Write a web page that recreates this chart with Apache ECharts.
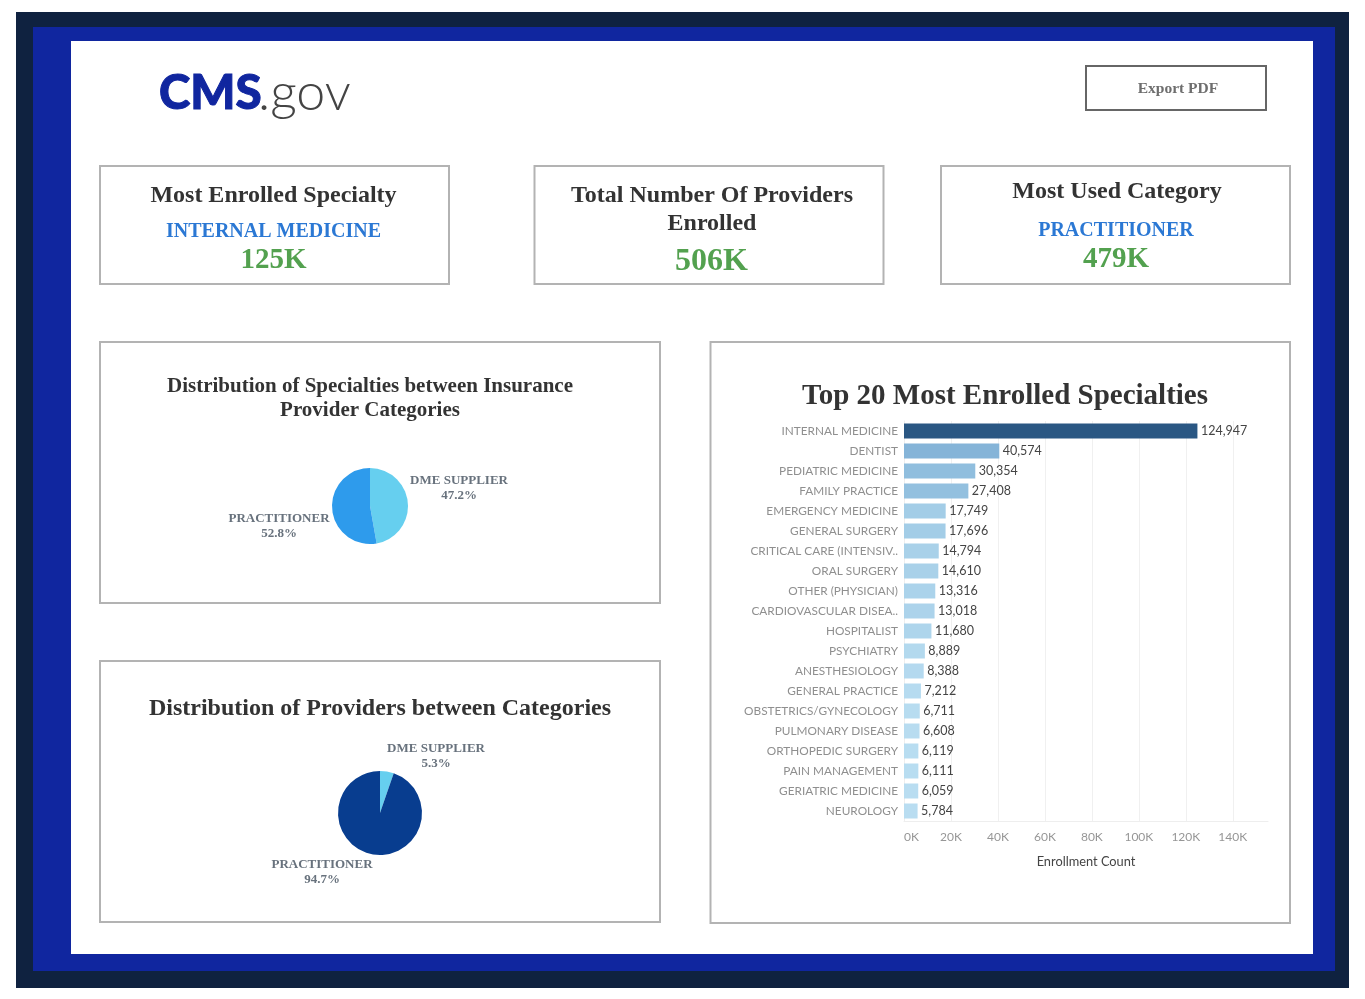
<!DOCTYPE html>
<html><head><meta charset="utf-8">
<style>html,body{margin:0;padding:0;background:#fff}#c{width:1365px;height:999px}</style>
<script src="https://cdn.jsdelivr.net/npm/echarts@6/dist/echarts.min.js"></script>
</head><body><div id="c"></div>
<script>
const specialties = ["INTERNAL MEDICINE","DENTIST","PEDIATRIC MEDICINE","FAMILY PRACTICE","EMERGENCY MEDICINE","GENERAL SURGERY","CRITICAL CARE (INTENSIV..","ORAL SURGERY","OTHER (PHYSICIAN)","CARDIOVASCULAR DISEA..","HOSPITALIST","PSYCHIATRY","ANESTHESIOLOGY","GENERAL PRACTICE","OBSTETRICS/GYNECOLOGY","PULMONARY DISEASE","ORTHOPEDIC SURGERY","PAIN MANAGEMENT","GERIATRIC MEDICINE","NEUROLOGY"];
const enrollment = [124947,40574,30354,27408,17749,17696,14794,14610,13316,13018,11680,8889,8388,7212,6711,6608,6119,6111,6059,5784];
const xTicks = [0,20000,40000,60000,80000,100000,120000,140000];
const categoryNames = ["DME SUPPLIER","PRACTITIONER"];
const specialtyShare = [47.2,52.8];
const providerShare = [5.3,94.7];
const serif = '"Liberation Serif"';
const dark = '#333333', gray='#68727d', border='#b3b3b3';

function box(x,y,w,h){return {type:'rect',silent:true,shape:{x,y,width:w,height:h},style:{fill:'#fff',stroke:border,lineWidth:2}};}
function txt(s,x,y,size,color,extra){return {type:'text',silent:true,x,y,style:Object.assign({text:s,fill:color,font:`bold ${size}px ${serif}`,align:'center',verticalAlign:'middle'},extra||{})};}
function fill(x,y,w,h,c){return {type:'rect',silent:true,shape:{x,y,width:w,height:h},style:{fill:c}};}

const elements = [
  fill(16,12,1333,976,'#0f2240'),
  fill(33,27,1302,944,'#10269f'),
  fill(71,41,1242,913,'#ffffff'),
  {type:'text',silent:true,x:159,y:94,style:{text:'CMS',fill:'#10269f',stroke:'#10269f',lineWidth:1,font:'900 47.5px Lato',verticalAlign:'middle',align:'left'}},
  {type:'text',silent:true,x:258,y:93,style:{text:'.gov',fill:'#444444',font:'300 52px Lato',verticalAlign:'middle',align:'left'}},
  {type:'rect',silent:true,shape:{x:1086,y:66,width:180,height:44},style:{fill:'#fff',stroke:'#666',lineWidth:2}},
  txt('Export PDF',1178,89,15.5,'#6e6e6e'),
  box(100,166,349,118), box(534.5,166,349,118), box(941,166,349,118),
  box(100,342,560,261), box(100,661,560,261), box(710.5,342,579.5,581),
  txt('Most Enrolled Specialty',273.5,196,24,dark),
  txt('INTERNAL MEDICINE',273.5,232,20,'#2b78d4'),
  txt('125K',273.5,261,29,'#53a14f'),
  txt('Total Number Of Providers',712,196,24,dark),
  txt('Enrolled',712,224,24,dark),
  txt('506K',711.5,262,32,'#53a14f'),
  txt('Most Used Category',1117,192,24,dark),
  txt('PRACTITIONER',1116,231,20,'#2b78d4'),
  txt('479K',1116,260,29,'#53a14f'),
  txt('Distribution of Specialties between Insurance',370,387,21,dark),
  txt('Provider Categories',370,411,21,dark),
  txt('Distribution of Providers between Categories',380,709,24,dark),
  txt('Top 20 Most Enrolled Specialties',1005,397,29,dark),
];

function pieLabel(p){return p.name+'\n'+p.value+'%';}
function pie(values,center,radius,colors,positions){
  return {type:'pie',silent:true,center,radius,startAngle:90,clockwise:true,z:5,animation:false,
    data:categoryNames.map((n,i)=>({name:n,value:values[i],itemStyle:{color:colors[i]}})),
    label:{show:true,formatter:pieLabel,color:gray,fontFamily:serif,fontWeight:'bold',fontSize:13,lineHeight:15,align:'center'},
    labelLine:{show:false},
    labelLayout:p=>{const i=p.dataIndex;return {x:positions[i][0],y:positions[i][1],align:'center',verticalAlign:'middle'};}
  };
}

const chart = echarts.init(document.getElementById('c'),null,{renderer:'canvas'});
chart.setOption({
  animation:false,
  backgroundColor:'#fff',
  graphic:{elements},
  visualMap:{show:false,seriesIndex:0,min:5784,max:124947,dimension:0,
    inRange:{color:['#b9ddf1','#95c2e0','#80b0d6','#6a9bc3','#5587b4','#3f6f9c','#2a5783']}},
  grid:{left:904,top:421,width:364,height:400,containLabel:false},
  xAxis:{type:'value',min:0,max:155000,interval:20000,
    axisLine:{show:true,lineStyle:{color:'#eeeeee'}},axisTick:{show:false},
    splitLine:{show:true,showMaxLine:false,lineStyle:{color:'#f0f0f0',width:1}},
    axisLabel:{color:'#969696',fontFamily:'Lato',fontSize:12,margin:10,alignMinLabel:'left',
      customValues:xTicks,formatter:v=>(v/1000)+'K'},
    name:'Enrollment Count',nameLocation:'middle',nameGap:34,
    nameTextStyle:{color:'#444',fontFamily:'Lato',fontSize:12.8}},
  yAxis:{type:'category',inverse:true,data:specialties,
    axisLine:{show:true,lineStyle:{color:'#eeeeee'}},axisTick:{show:false},
    axisLabel:{color:'#8f8f8f',fontFamily:'Lato',fontSize:11.8,margin:6}},
  series:[
    {type:'bar',data:enrollment,barWidth:15,silent:true,z:3,encode:{x:0},
     label:{show:true,position:'right',distance:3.5,color:'#444',fontFamily:'Lato',fontSize:12.5,
       formatter:p=>p.value.toLocaleString('en-US')}},
    pie(specialtyShare,[370,506],38,['#66cfef','#2e9bec'],[[459,488],[279,526]]),
    pie(providerShare,[380,813],42,['#66cfef','#083d8f'],[[436,756],[322,872]])
  ]
});
</script></body></html>
